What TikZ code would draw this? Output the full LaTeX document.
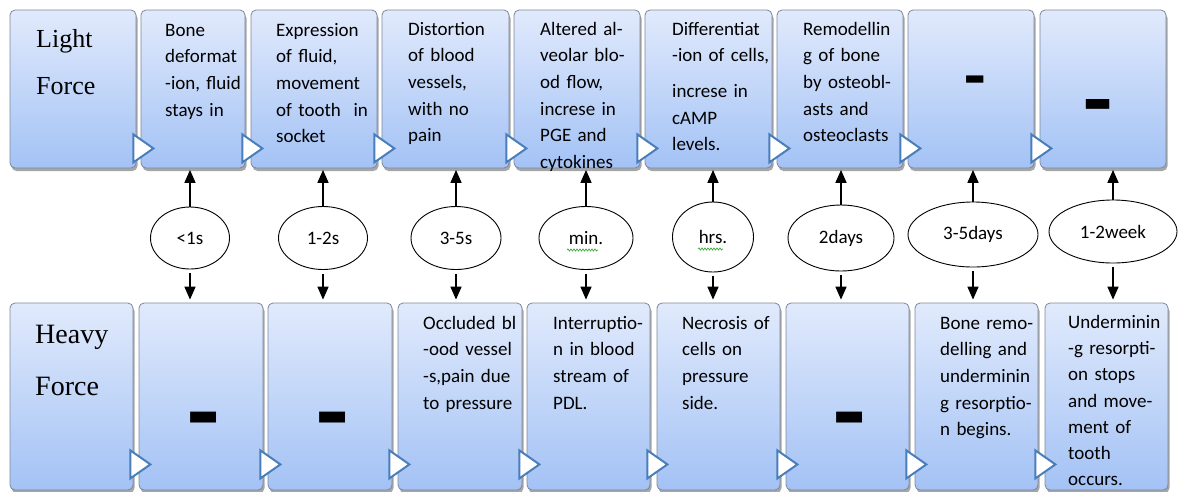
\documentclass[tikz,border=0pt]{standalone}
\usepackage{fontspec}
\setmainfont{Carlito}
\newfontfamily\serifo{Liberation Serif}
\usetikzlibrary{shadows,arrows.meta,shapes.geometric,decorations.pathmorphing}
\definecolor{boxtop}{RGB}{225,234,252}
\definecolor{boxbot}{RGB}{163,194,245}
\definecolor{boxline}{RGB}{125,135,155}
\definecolor{triline}{RGB}{74,126,187}
\definecolor{wavy}{RGB}{60,170,60}
\begin{document}
\begin{tikzpicture}[x=1pt,y=-1pt,
  box/.style={rounded corners=5pt, draw=boxline, line width=0.8pt,
    top color=boxtop, bottom color=boxbot, inner sep=0pt,
    drop shadow={shadow xshift=1.5pt, shadow yshift=-3pt, opacity=0.35, fill=black}},
  topbox/.style={box, minimum height=158pt},
  botbox/.style={box, minimum height=187pt},
  txt/.style={anchor=north west, inner sep=0pt, text width=135pt, align=left,
    font=\fontsize{19}{26.6}\selectfont},
  ttl/.style={anchor=north west, inner sep=0pt, text width=110pt, align=left},
  ell/.style={ellipse, draw=black, line width=0.9pt, fill=white, inner sep=0pt,
    font=\fontsize{19}{22}\selectfont},
  arr/.style={-{Triangle[width=11pt,length=13pt]}, line width=1.6pt},
  tri/.style={fill=white, draw=triline, line width=2pt, line join=miter},
  dashtxt/.style={anchor=base, inner sep=0pt, text height=0pt, text depth=0pt},
  spell/.style={draw=wavy, line width=0.7pt, decorate,
    decoration={snake, amplitude=1pt, segment length=3pt}}
]
\useasboundingbox (0,0) rectangle (1180,491);

% top row
\node[topbox, minimum width=126pt] (t0) at (73,89) {};
\node[topbox, minimum width=104pt] (t1) at (193,89) {};
\node[topbox, minimum width=126pt] (t2) at (314,89) {};
\node[topbox, minimum width=127pt] (t3) at (445.5,89) {};
\node[topbox, minimum width=126pt] (t4) at (577,89) {};
\node[topbox, minimum width=127pt] (t5) at (708.5,89) {};
\node[topbox, minimum width=126pt] (t6) at (840,89) {};
\node[topbox, minimum width=126pt] (t7) at (971,89) {};
\node[topbox, minimum width=126pt] (t8) at (1103,89) {};

% bottom row
\node[botbox, minimum width=123pt] (b0) at (71.5,396.5) {};
\node[botbox, minimum width=124pt] (b1) at (201,396.5) {};
\node[botbox, minimum width=124pt] (b2) at (330,396.5) {};
\node[botbox, minimum width=124pt] (b3) at (460,396.5) {};
\node[botbox, minimum width=123pt] (b4) at (588.5,396.5) {};
\node[botbox, minimum width=123pt] (b5) at (718.5,396.5) {};
\node[botbox, minimum width=123pt] (b6) at (847.5,396.5) {};
\node[botbox, minimum width=123pt] (b7) at (976.5,396.5) {};
\node[botbox, minimum width=123pt] (b8) at (1106.5,396.5) {};

% triangles
\foreach \n in {t0,t1,t2,t3,t4,t5,t6,t7}
  \draw[tri] ([shift={(-3,-34)}]\n.south east) -- ++(20,14) -- ++(-20,14) -- cycle;
\foreach \n in {b0,b1,b2,b3,b4,b5,b6,b7}
  \draw[tri] ([shift={(-3,-40)}]\n.south east) -- ++(20,14) -- ++(-20,14) -- cycle;

% titles
\node[ttl, font=\serifo\fontsize{26}{47}\selectfont] (lf) at (36,14.1) {\strut Light\\Force};
\node[ttl, font=\serifo\fontsize{28}{52}\selectfont] (hf) at (35,306.6) {\strut Heavy\\Force};

% top texts
\node[txt] (x1) at (165,17.5) {\strut Bone\\deformat\\-ion, fluid\\stays in};
\node[txt] (x2) at (276,17.5) {\strut Expression\\of fluid,\\movement\\of tooth~ in\\socket};
\node[txt] (x3) at (408,16.5) {\strut Distortion\\of blood\\vessels,\\with no\\pain};
\node[txt] (x4) at (540,16.5) {\strut Altered al-\\veolar blo-\\od flow,\\increse in\\PGE and\\cytokines};
\node[txt] (x5) at (672,16.5) {\strut Differentiat\\-ion of cells,\\[9pt]increse in\\cAMP\\levels.};
\node[txt] (x6) at (803,16.5) {\strut Remodellin\\g of bone\\by osteobl-\\asts and\\osteoclasts};

% bottom texts
\node[txt] (y3) at (423,310.5) {\strut Occluded bl\\-ood vessel\\-s,pain due\\to pressure};
\node[txt] (y4) at (553,310.5) {\strut Interruptio-\\n in blood\\stream of\\PDL.};
\node[txt] (y5) at (682,310.5) {\strut Necrosis of\\cells on\\pressure\\side.};
\node[txt] (y7) at (940,310.5) {\strut Bone remo-\\delling and\\underminin\\g resorptio-\\n begins.};
\node[txt, font=\fontsize{19}{26.2}\selectfont] (y8) at (1068,310) {\strut Underminin\\-g resorpti-\\on stops\\and move-\\ment of\\tooth\\occurs.};

% dashes
\node[dashtxt, font=\fontsize{70}{70}\selectfont\bfseries] (d6) at (975,99) {-};
\node[dashtxt, font=\fontsize{95}{95}\selectfont\bfseries] (d8) at (1098,131) {-};
\node[dashtxt, font=\fontsize{105}{105}\selectfont\bfseries] (db1) at (204,447) {-};
\node[dashtxt, font=\fontsize{105}{105}\selectfont\bfseries] (db2) at (333,447) {-};
\node[dashtxt, font=\fontsize{105}{105}\selectfont\bfseries] (db6) at (850,447) {-};

% ellipses
\node[ell, minimum width=79pt, minimum height=62pt] (e1) at (190,238) {<1s};
\node[ell, minimum width=89pt, minimum height=63pt] (e2) at (323,238) {1-2s};
\node[ell, minimum width=90pt, minimum height=63pt] (e3) at (456,238) {3-5s};
\node[ell, minimum width=94pt, minimum height=63pt] (e4) at (586,238) {min.};
\node[ell, minimum width=81pt, minimum height=70pt] (e5) at (713,237) {hrs.};
\node[ell, minimum width=106pt, minimum height=66pt] (e6) at (841,238) {2days};
\node[ell, minimum width=130pt, minimum height=65pt] (e7) at (973,234.5) {3-5days};
\node[ell, minimum width=128pt, minimum height=63pt] (e8) at (1113,231.5) {1-2week};

\draw[spell] ([shift={(-19,12)}]e4.center) -- ++(31,0);
\draw[spell] ([shift={(-15,12)}]e5.center) -- ++(25,0);

% arrows
\foreach \i in {1,...,8}{
  \draw[arr, shorten >=1.5pt] (e\i.north) -- (e\i.north |- t\i.south);
  \draw[arr, shorten >=3pt] ([yshift=-4pt]e\i.south) -- (e\i.south |- b\i.north);
}
\end{tikzpicture}
\end{document}
